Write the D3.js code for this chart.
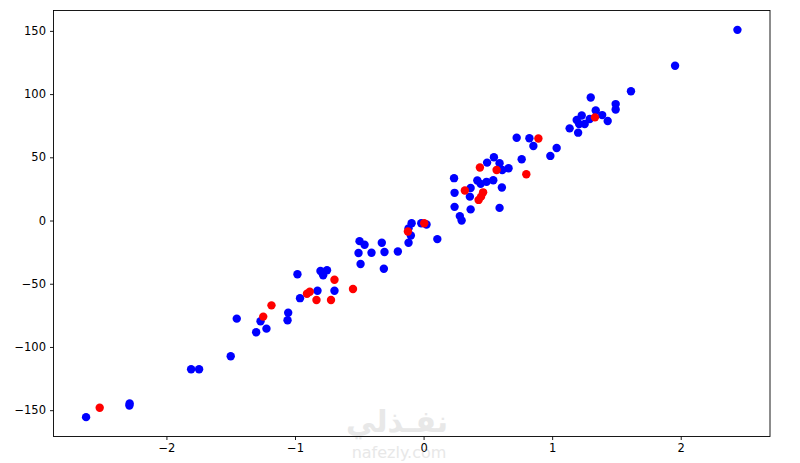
<!DOCTYPE html>
<html>
<head>
<meta charset="utf-8">
<script src="https://cdn.jsdelivr.net/npm/d3@7"></script>
<style>
  body { margin: 0; background: #fff; }
  svg { display: block; font-family: "DejaVu Sans", sans-serif; }
</style>
</head>
<body>
<script>
const width = 800;
const height = 463;

// blue points
const blueX = [-2.625, -2.286, -2.288, -1.808, -1.746, -1.500, -1.453, -1.302, -1.222, -1.268,
    -1.053, -1.058, -0.981, -0.961, -0.825, -0.802, -0.781, -0.751, -0.693, -0.498,
    -0.459, -0.506, -0.490, -0.405, -0.325, -0.304, -0.309, -0.200, -0.093, -0.117,
    -0.099, -0.117, -0.018, 0.023, 0.107, 0.237, 0.241, 0.241, 0.282, 0.296,
    0.366, 0.360, 0.366, 0.418, 0.444, 0.494, 0.490, 0.542, 0.547, 0.591,
    0.612, 0.661, 0.609, 0.591, 0.724, 0.823, 0.854, 0.763, 1.035, 0.986,
    1.136, 1.202, 1.300, 1.494, 1.494, 1.339, 1.389, 1.432, 1.230, 1.191,
    1.253, 1.210, 1.292, 1.613, 1.956, 2.441];
const blueY = [-155.5, -144.7, -146.3, -117.6, -117.6, -107.4, -77.6, -88.4, -85.5, -79.7,
    -72.9, -78.9, -42.5, -61.4, -55.5, -39.9, -43.3, -39.3, -55.5, -16.3,
    -19.2, -25.7, -34.4, -25.5, -17.6, -24.9, -38.1, -24.5, -2.1, -6.2,
    -11.8, -17.6, -2.1, -3.2, -14.7, 33.5, 21.9, 10.8, 3.5, 0.0,
    25.8, 18.9, 8.8, 31.7, 29.0, 45.8, 30.6, 31.9, 50.1, 45.3,
    40.0, 41.4, 26.1, 10.0, 65.5, 65.1, 59.0, 48.5, 57.4, 51.1,
    72.9, 69.5, 97.3, 92.1, 87.8, 87.0, 83.4, 78.7, 83.1, 79.5,
    76.3, 76.3, 80.3, 102.2, 122.4, 150.8];

// red points
const redX = [-2.519, -1.247, -1.183, -0.907, -0.885, -0.833, -0.693, -0.720, -0.549, -0.122,
    0.005, 0.321, 0.438, 0.463, 0.447, 0.428, 0.568, 0.893, 0.799, 1.333];
const redY = [-148.1, -76.0, -67.1, -57.9, -56.3, -62.8, -46.8, -62.8, -54.2, -8.7,
    -2.1, 23.8, 42.0, 22.3, 18.9, 16.3, 40.0, 64.9, 36.6, 81.6];

const xTicks = [-2, -1, 0, 1, 2];
const yTicks = [-150, -100, -50, 0, 50, 100, 150];

const margin = { left: 53.5, right: 30, top: 10.5, bottom: 26.5 };

const blue = blueX.map((x, i) => ({ x: x, y: blueY[i] }));
const red = redX.map((x, i) => ({ x: x, y: redY[i] }));
const all = blue.concat(red);

// matplotlib-style 5% margins
function padded(ext) {
    const p = (ext[1] - ext[0]) * 0.05;
    return [ext[0] - p, ext[1] + p];
}

const x = d3.scaleLinear()
    .domain(padded(d3.extent(all, d => d.x)))
    .range([margin.left, width - margin.right]);

const y = d3.scaleLinear()
    .domain(padded(d3.extent(all, d => d.y)))
    .range([height - margin.bottom, margin.top]);

const svg = d3.select("body")
    .append("svg")
    .attr("width", width)
    .attr("height", height);

// watermark
svg.append("text")
    .attr("x", 397)
    .attr("y", 432)
    .attr("text-anchor", "middle")
    .attr("font-size", 30)
    .attr("font-weight", "bold")
    .attr("fill", "#e8e8e8")
    .text("نفـذلي");

svg.append("text")
    .attr("x", 399)
    .attr("y", 458)
    .attr("text-anchor", "middle")
    .attr("font-size", 16)
    .attr("fill", "#e8e8e8")
    .text("nafezly.com");

const fmt = d => String(d).replace("-", "\u2212");

svg.append("g")
    .attr("transform", `translate(0,${height - margin.bottom})`)
    .call(d3.axisBottom(x).tickValues(xTicks).tickFormat(fmt).tickSize(3.5).tickPadding(4))
    .call(g => g.select(".domain").remove());

svg.append("g")
    .attr("transform", `translate(${margin.left},0)`)
    .call(d3.axisLeft(y).tickValues(yTicks).tickFormat(fmt).tickSize(3.5).tickPadding(4))
    .call(g => g.select(".domain").remove());

svg.selectAll(".tick text")
    .attr("font-family", "DejaVu Sans, sans-serif")
    .attr("font-size", 11.5)
    .attr("fill", "#000");

svg.selectAll(".tick line")
    .attr("stroke", "#000")
    .attr("stroke-width", 0.9);

// points
svg.append("g")
    .selectAll("circle")
    .data(blue)
    .join("circle")
    .attr("cx", d => x(d.x))
    .attr("cy", d => y(d.y))
    .attr("r", 4.2)
    .attr("fill", "#0000ff");

svg.append("g")
    .selectAll("circle")
    .data(red)
    .join("circle")
    .attr("cx", d => x(d.x))
    .attr("cy", d => y(d.y))
    .attr("r", 4.2)
    .attr("fill", "#ff0000");

// frame
svg.append("rect")
    .attr("x", margin.left)
    .attr("y", margin.top)
    .attr("width", width - margin.left - margin.right)
    .attr("height", height - margin.top - margin.bottom)
    .attr("fill", "none")
    .attr("stroke", "#000")
    .attr("stroke-width", 0.9);
</script>
</body>
</html>
